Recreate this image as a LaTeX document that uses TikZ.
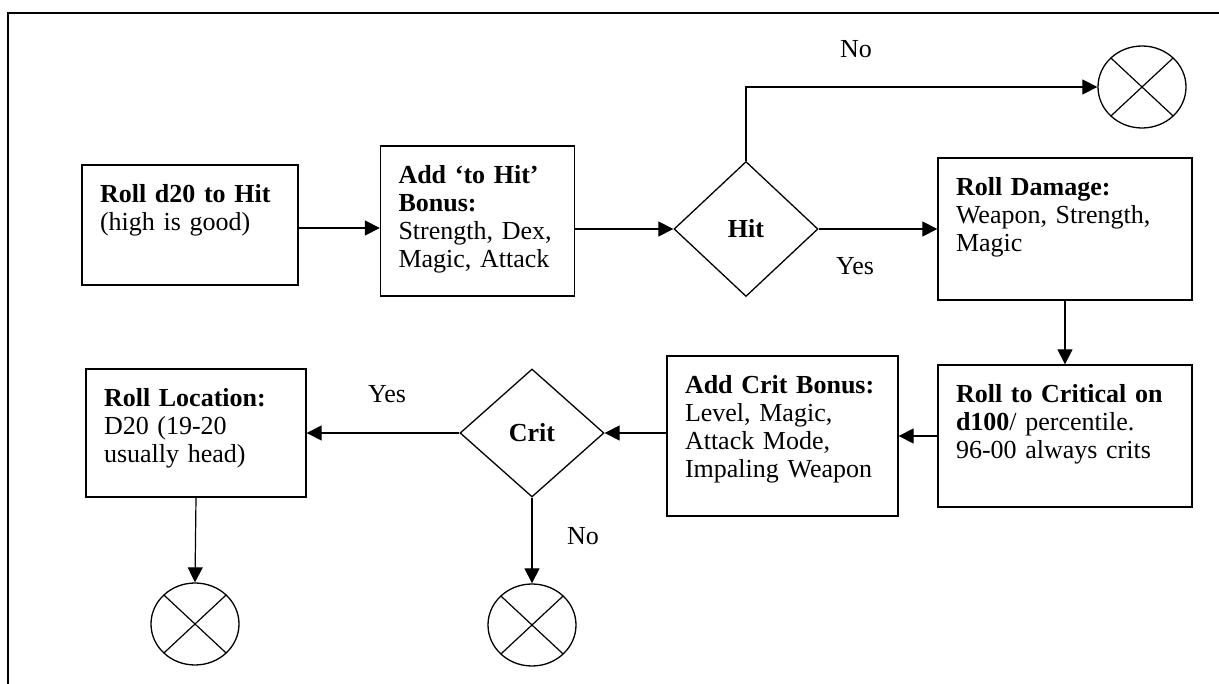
\documentclass[tikz,border=0pt]{standalone}
\usepackage{fontspec}
\setmainfont{Liberation Serif}
\usepackage{tikz}
\usetikzlibrary{
    shapes.geometric,
    arrows.meta,
    positioning,
    calc
}
\definecolor{Cline}{RGB}{0, 0, 0}
\tikzset{
    dbox/.style={
        rectangle, draw=Cline, line width=1.3pt, fill=white, text=black,
        align=left, inner xsep=18pt, inner ysep=0pt, text height=38pt,
        font=\fontsize{26}{28}\selectfont
    },
    ddec/.style={
        diamond, draw=Cline, line width=1.3pt, fill=white, inner sep=0pt,
        minimum width=144pt, font=\fontsize{26}{28}\selectfont\bfseries
    },
    dend/.style={
        ellipse, draw=Cline, line width=1.3pt, inner sep=0pt,
        minimum width=88pt, minimum height=82pt,
        path picture={
            \draw[line width=1.2pt] (path picture bounding box.north west) -- (path picture bounding box.south east);
            \draw[line width=1.2pt] (path picture bounding box.north east) -- (path picture bounding box.south west);
        }
    },
    dlab/.style={font=\fontsize{26}{28}\selectfont, inner sep=0pt},
    darr/.style={-{Triangle[length=15pt, width=15pt]}, line width=1.2pt, Cline},
}

\begin{document}
\begin{tikzpicture}[x=1pt, y=-1pt]

    \useasboundingbox (0,0) rectangle (1219,684);

    % -- frame: top and left edge only
    \coordinate (frameTL) at (8,13);
    \draw [line width=2pt] (1219,13) -- (frameTL) -- (8,684);

    % -- first row
    \node [dbox, text width=180pt, text depth=82pt] (roll) at (190,225)
        {\textbf{Roll d20 to Hit}\\(high is good)};
    \node [dbox, text width=158pt, text depth=112pt] (bonus) at (477.5,221)
        {\textbf{Add `to Hit'}\\\textbf{Bonus:}\\Strength, Dex,\\Magic, Attack};
    \node [ddec, minimum height=135pt] (hit) at (746,229) {Hit};
    \node [dbox, text width=218pt, text depth=104pt] (damage) at (1065,229)
        {\textbf{Roll Damage:}\\Weapon, Strength,\\Magic};
    \node [dend] (endHit) at (1142,87) {};

    % -- second row
    \node [dbox, text width=218pt, text depth=104pt] (critroll) at (1065,436)
        {\textbf{Roll to Critical on}\\\textbf{d100}/ percentile.\\96-00 always crits};
    \node [dbox, text width=195pt, text depth=122pt] (critbonus) at (782.5,436)
        {\textbf{Add Crit Bonus:}\\Level, Magic,\\Attack Mode,\\Impaling Weapon};
    \node [ddec, minimum height=128pt] (crit) at (532,433) {Crit};
    \node [dbox, text width=184pt, text depth=90pt] (location) at (196,433)
        {\textbf{Roll Location:}\\D20 (19-20\\usually head)};

    % -- third row: end points
    \node [dend] (endLoc) at (195,624) {};
    \node [dend] (endCrit) at (532,625) {};

    % -- arrows
    \draw [darr] (roll.east |- 0,228) -- (bonus.west |- 0,228);
    \draw [darr] (bonus.east |- hit.west) -- (hit.west);
    \draw [darr] (hit.east) -- (damage.west |- hit.east);
    \draw [darr] (hit.north) |- (endHit.west);
    \draw [darr] (damage.south) -- (critroll.north);
    \draw [darr] (critroll.west) -- (critbonus.east |- critroll.west);
    \draw [darr] (critbonus.west |- crit.east) -- (crit.east);
    \draw [darr] (crit.west) -- (location.east |- crit.west);
    \draw [darr] (location.south) -- (endLoc.north);
    \draw [darr] (crit.south) -- (endCrit.north);

    % -- labels
    \node [dlab] (noHit) at (856,49) {No};
    \node [dlab] (yesHit) at (855,266) {Yes};
    \node [dlab] (yesCrit) at (387,394) {Yes};
    \node [dlab] (noCrit) at (583,536) {No};

\end{tikzpicture}
\end{document}
